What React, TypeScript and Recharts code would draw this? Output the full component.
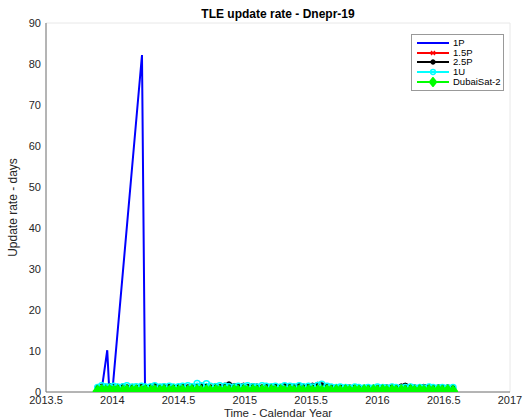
import React from "react";
import { LineChart, Line, XAxis, YAxis, CartesianGrid } from "recharts";

const dates = [
  2013.89, 2013.92, 2013.95, 2013.98, 2014.01, 2014.04, 2014.08, 2014.11, 2014.15, 2014.18,
  2014.22, 2014.25, 2014.29, 2014.32, 2014.36, 2014.39, 2014.43, 2014.46, 2014.5, 2014.53,
  2014.57, 2014.6, 2014.64, 2014.67, 2014.71, 2014.74, 2014.78, 2014.81, 2014.85, 2014.88,
  2014.92, 2014.95, 2014.99, 2015.02, 2015.06, 2015.09, 2015.13, 2015.16, 2015.2, 2015.23,
  2015.27, 2015.3, 2015.34, 2015.37, 2015.41, 2015.44, 2015.48, 2015.51, 2015.55, 2015.58,
  2015.62, 2015.65, 2015.69, 2015.72, 2015.76, 2015.79, 2015.83, 2015.86, 2015.9, 2015.93,
  2015.97, 2016.0, 2016.04, 2016.07, 2016.11, 2016.14, 2016.18, 2016.21, 2016.25, 2016.28,
  2016.32, 2016.35, 2016.39, 2016.42, 2016.46, 2016.49, 2016.53, 2016.57,
];

const dates1P = [2013.9, 2013.92, 2013.962, 2013.977, 2014.003, 2014.224, 2014.247, 2014.3, 2014.4];
const values1P = [0.4, 0.5, 10.2, 0.5, 1.0, 82.2, 0.4, 0.3, 0.3];

const values15P = [
  0.6, 0.8, 0.7, 0.9, 0.6, 0.8, 0.7, 0.9, 0.8, 0.6, 0.7, 0.9, 0.8, 0.7, 0.6, 0.8, 0.9, 0.7, 0.8, 0.6,
  0.7, 0.9, 0.8, 0.7, 0.6, 0.8, 0.9, 0.7, 1.0, 0.8, 0.7, 0.6, 0.9, 0.8, 0.7, 0.8, 0.6, 0.9, 1.1, 0.7,
  0.8, 0.6, 0.7, 0.9, 0.8, 0.7, 0.6, 0.8, 0.9, 0.7, 0.6, 0.7, 0.8, 0.6, 0.7, 0.8, 0.6, 0.7, 0.6, 0.8,
  0.7, 0.6, 0.7, 0.8, 0.6, 0.7, 0.8, 0.9, 0.7, 0.6, 0.8, 0.7, 0.6, 0.7, 0.8, 0.6, 0.7, 0.6,
];

const values25P = [
  1.0, 1.2, 1.1, 1.4, 1.1, 1.2, 1.3, 1.1, 1.2, 1.0, 1.3, 1.1, 1.2, 1.4, 1.1, 1.3, 1.2, 1.1, 1.2, 1.3,
  1.1, 1.2, 1.1, 1.3, 1.2, 1.1, 1.4, 1.2, 1.5, 1.8, 1.4, 1.3, 1.5, 1.2, 1.4, 1.3, 1.1, 1.4, 1.2, 1.3,
  1.1, 1.4, 1.3, 1.2, 1.5, 1.3, 1.4, 1.5, 1.7, 1.6, 1.2, 1.1, 1.0, 1.1, 1.0, 1.1, 1.0, 0.9, 1.0, 1.1,
  1.0, 0.9, 1.0, 1.1, 1.2, 1.1, 1.3, 1.5, 1.2, 1.1, 1.0, 1.2, 1.1, 1.0, 1.1, 1.0, 1.1, 0.9,
];

const values1U = [
  1.1, 1.5, 1.3, 1.2, 1.4, 1.2, 1.3, 1.5, 1.2, 1.3, 1.4, 1.2, 1.3, 1.5, 1.2, 1.3, 1.4, 1.2, 1.3, 1.4,
  1.5, 1.3, 2.1, 1.5, 2.0, 1.4, 1.3, 1.5, 1.4, 1.3, 1.2, 1.4, 1.3, 1.5, 1.3, 1.2, 1.5, 1.4, 1.3, 1.4,
  1.2, 1.5, 1.4, 1.3, 1.5, 1.3, 1.4, 1.2, 1.6, 1.9, 1.4, 1.2, 1.1, 1.2, 1.1, 1.0, 1.2, 1.1, 1.0, 1.1,
  1.0, 1.2, 1.1, 1.0, 1.2, 1.1, 1.0, 1.1, 1.2, 1.0, 1.1, 1.0, 1.2, 1.1, 1.0, 1.1, 1.0, 1.1,
];

const valuesDubai = [
  0.2, 0.3, 0.2, 0.3, 0.2, 0.3, 0.2, 0.3, 0.2, 0.3, 0.2, 0.3, 0.2, 0.3, 0.2, 0.3, 0.2, 0.3, 0.2, 0.3,
  0.2, 0.3, 0.3, 0.2, 0.3, 0.2, 0.3, 0.2, 0.3, 0.2, 0.3, 0.2, 0.3, 0.2, 0.3, 0.2, 0.3, 0.2, 0.3, 0.2,
  0.3, 0.2, 0.3, 0.2, 0.3, 0.2, 0.3, 0.2, 0.3, 0.2, 0.3, 0.2, 0.3, 0.2, 0.3, 0.2, 0.3, 0.2, 0.3, 0.2,
  0.3, 0.2, 0.3, 0.2, 0.3, 0.2, 0.3, 0.2, 0.3, 0.2, 0.3, 0.2, 0.3, 0.2, 0.3, 0.2, 0.3, 0.2,
];

const xTicks = [2013.5, 2014, 2014.5, 2015, 2015.5, 2016, 2016.5, 2017];
const yTicks = [0, 10, 20, 30, 40, 50, 60, 70, 80, 90];

const zip = (xs: number[], ys: number[]) => xs.map((t, i) => ({ t, v: ys[i] }));

type Marker = "none" | "x" | "dot" | "circle" | "diamond";

const series = [
  { name: "1P", color: "#0000ff", marker: "none" as Marker, data: zip(dates1P, values1P) },
  { name: "1.5P", color: "#ff0000", marker: "x" as Marker, data: zip(dates, values15P) },
  { name: "2.5P", color: "#000000", marker: "dot" as Marker, data: zip(dates, values25P) },
  { name: "1U", color: "#00ffff", marker: "circle" as Marker, data: zip(dates, values1U) },
  { name: "DubaiSat-2", color: "#00ff00", marker: "diamond" as Marker, data: zip(dates, valuesDubai) },
];

const MarkerShape = ({ cx, cy, marker, color, scale = 1 }: { cx: number; cy: number; marker: Marker; color: string; scale?: number }) => {
  if (cx == null || cy == null) return <g />;
  if (marker === "x") {
    const s = 2.5 * scale;
    return (
      <g stroke={color} strokeWidth={1.5}>
        <line x1={cx - s} y1={cy - s} x2={cx + s} y2={cy + s} />
        <line x1={cx - s} y1={cy + s} x2={cx + s} y2={cy - s} />
      </g>
    );
  }
  if (marker === "dot") return <circle cx={cx} cy={cy} r={2.8 * scale} fill={color} stroke={color} strokeWidth={1} />;
  if (marker === "circle") return <circle cx={cx} cy={cy} r={3 * scale} fill="none" stroke={color} strokeWidth={1.5} />;
  if (marker === "diamond") {
    const s = 5.5 * scale;
    return (
      <polygon
        points={`${cx},${cy - s} ${cx + s * 0.8},${cy} ${cx},${cy + s} ${cx - s * 0.8},${cy}`}
        fill={color}
        stroke={color}
        strokeWidth={1.5}
      />
    );
  }
  return <g />;
};

const EmptyTick = () => <g />;

const font = "'Liberation Sans', Arial, Helvetica, sans-serif";

export default function App() {
  return (
    <div style={{ position: "absolute", left: 0, top: 0, width: 526, height: 419, background: "#fff", fontFamily: font }}>
      <div
        style={{
          position: "absolute",
          left: 46,
          width: 464,
          top: 7,
          textAlign: "center",
          fontWeight: "bold",
          fontSize: 12,
          color: "#000",
        }}
      >
        TLE update rate - Dnepr-19
      </div>
      <LineChart width={526} height={419} margin={{ top: 23, right: 16, bottom: 0, left: 0 }}>
        <CartesianGrid stroke="#e8e8e8" strokeWidth={1} />
        <XAxis
          xAxisId="b"
          dataKey="t"
          type="number"
          domain={[2013.5, 2017]}
          ticks={xTicks}
          allowDataOverflow
          height={27}
          tickSize={0}
          tickMargin={4}
          stroke="#777"
          tick={{ fill: "#262626", fontSize: 11, fontFamily: font }}
          label={{ value: "Time - Calendar Year", position: "insideBottom", offset: 2, fill: "#262626", fontSize: 11.5, fontFamily: font }}
        />
        <XAxis
          xAxisId="top"
          orientation="top"
          type="number"
          domain={[2013.5, 2017]}
          ticks={xTicks}
          height={0}
          mirror
          tickSize={4}
          stroke="#777"
          tick={<EmptyTick />}
        />
        <YAxis
          yAxisId="l"
          type="number"
          domain={[0, 90]}
          ticks={yTicks}
          width={46}
          tickSize={0}
          tickMargin={5}
          stroke="#777"
          allowDataOverflow
          tick={{ fill: "#262626", fontSize: 11, fontFamily: font }}
          label={{ value: "Update rate - days", angle: -90, position: "insideLeft", offset: 13, style: { textAnchor: "middle" }, fill: "#262626", fontSize: 12, fontFamily: font }}
        />
        <YAxis
          yAxisId="r"
          orientation="right"
          type="number"
          domain={[0, 90]}
          ticks={yTicks}
          width={0}
          mirror
          tickSize={4}
          stroke="#777"
          tick={<EmptyTick />}
        />
        {series.map((s) => (
          <Line
            key={s.name}
            xAxisId="b"
            yAxisId="l"
            data={s.data}
            dataKey="v"
            name={s.name}
            type="linear"
            stroke={s.color}
            strokeWidth={2}
            isAnimationActive={false}
            dot={(p: any) => <MarkerShape key={`${s.name}-${p.index}`} cx={p.cx} cy={p.cy} marker={s.marker} color={s.color} />}
            activeDot={false}
          />
        ))}
      </LineChart>
      <div
        style={{
          position: "absolute",
          left: 411,
          top: 34,
          width: 93,
          height: 57,
          border: "1px solid #999",
          background: "#fff",
          boxSizing: "border-box",
          paddingTop: 3,
        }}
      >
        {series.map((s) => (
          <div key={s.name} style={{ display: "flex", alignItems: "center", height: 9.7, fontSize: 9.5, color: "#000", whiteSpace: "nowrap" }}>
            <svg width={40} height={10} style={{ flex: "none" }}>
              <line x1={5} y1={5} x2={37} y2={5} stroke={s.color} strokeWidth={2} />
              <MarkerShape cx={21} cy={5} marker={s.marker} color={s.color} scale={0.8} />
            </svg>
            <span style={{ marginLeft: 1, lineHeight: "10px" }}>{s.name}</span>
          </div>
        ))}
      </div>
    </div>
  );
}
